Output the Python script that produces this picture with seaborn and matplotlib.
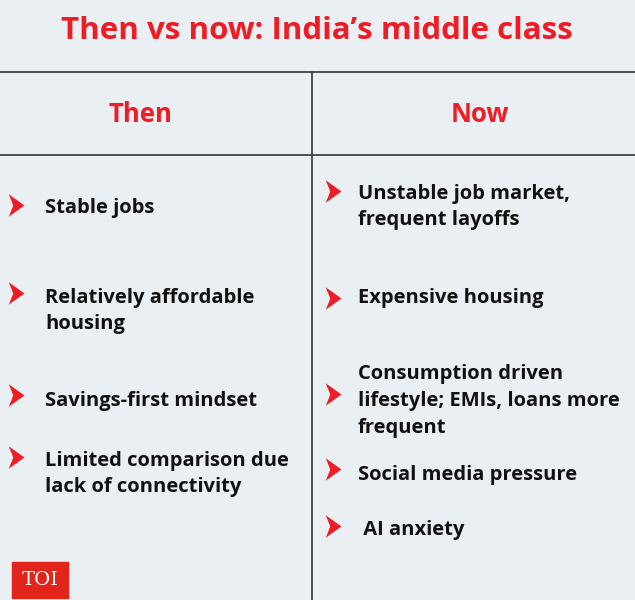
import matplotlib
matplotlib.use("Agg")
import matplotlib.pyplot as plt
import seaborn as sns
import pandas as pd
from matplotlib.path import Path
from matplotlib.patches import Rectangle

title = "Then vs now: India’s middle class"
headers = ["Then", "Now"]
then_items = ["Stable jobs", "Relatively affordable\nhousing", "Savings-first mindset",
              "Limited comparison due\nlack of connectivity"]
now_items = ["Unstable job market,\nfrequent layoffs", "Expensive housing",
             "Consumption driven\nlifestyle; EMIs, loans more\nfrequent", "Social media pressure",
             " AI anxiety"]
then_y = [208, 311, 401, 474]
now_y = [207, 298, 401, 475, 530]
then_arrow_y = [205, 293, 395, 457]
now_arrow_y = [191, 298, 394, 469, 526]

sns.set_theme(style="white")
plt.rcParams['font.family'] = ['Open Sans', 'DejaVu Sans']
BG = "#e9eff2"
RED = "#ee1c25"

fig = plt.figure(figsize=(6.35, 6.0), dpi=100, facecolor=BG)
ax = fig.add_axes([0, 0, 1, 1])
ax.set_facecolor(BG)

arrow = Path([(-0.6, -1), (0.8, 0), (-0.6, 1), (-0.2, 0), (-0.6, -1)],
             [Path.MOVETO, Path.LINETO, Path.LINETO, Path.LINETO, Path.CLOSEPOLY])
df = pd.DataFrame({"x": [15] * len(then_arrow_y) + [332] * len(now_arrow_y),
                   "y": then_arrow_y + now_arrow_y})
sns.scatterplot(data=df, x="x", y="y", marker=arrow, s=260, color=RED, edgecolor=RED,
                linewidth=0, ax=ax, legend=False)
ax.set_xlim(0, 635); ax.set_ylim(600, 0); ax.axis("off")

ax.text(317, 31, title, color=RED, fontsize=22.5, fontweight="bold", ha="center", va="center")
ax.plot([0, 635], [72, 72], color="#333333", lw=1.2)
ax.plot([0, 635], [155, 155], color="#333333", lw=1.2)
ax.plot([312, 312], [72, 600], color="#333333", lw=1.2)
ax.text(140, 114, headers[0], color=RED, fontsize=18.5, fontweight="bold", ha="center", va="center")
ax.text(480, 114, headers[1], color=RED, fontsize=18.5, fontweight="bold", ha="center", va="center")

for t, y in zip(then_items, then_y):
    ax.text(45, y, t, fontsize=14.5, fontweight="bold", color="#111111", va="center",
            linespacing=1.45)
for t, y in zip(now_items, now_y):
    ax.text(358, y, t, fontsize=14.5, fontweight="bold", color="#111111", va="center",
            linespacing=1.45)

ax.add_patch(Rectangle((12, 562), 56, 36, color="#e1251b"))
ax.text(40, 580, "TOI", color="white", fontsize=14, family="DejaVu Serif",
        ha="center", va="center")

fig.savefig("out.png", dpi=100, facecolor=BG)
